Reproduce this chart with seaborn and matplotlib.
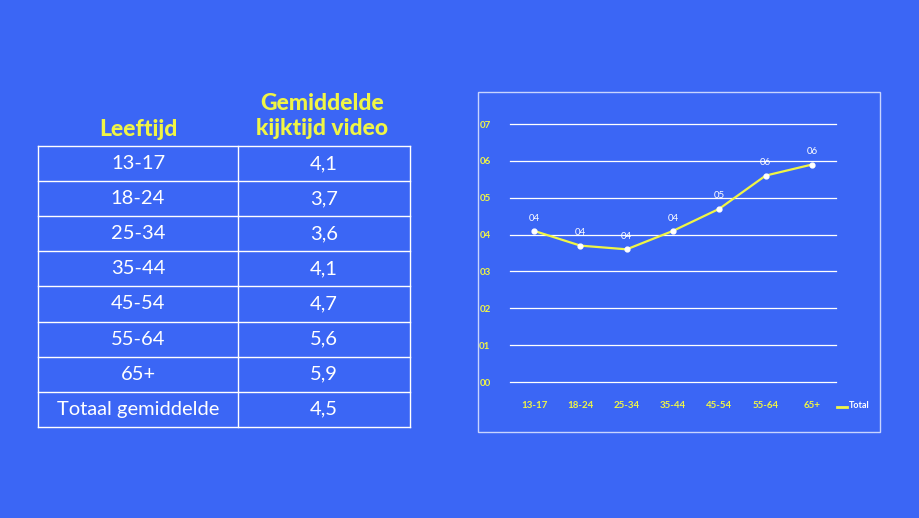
import matplotlib
matplotlib.use("Agg")
import matplotlib.pyplot as plt
import seaborn as sns
import pandas as pd
from matplotlib.patches import Rectangle
from matplotlib.lines import Line2D

ages = ["13-17", "18-24", "25-34", "35-44", "45-54", "55-64", "65+"]
watch_time = [4.1, 3.7, 3.6, 4.1, 4.7, 5.6, 5.9]
table_labels = ages + ["Totaal gemiddelde"]
table_values = ["4,1", "3,7", "3,6", "4,1", "4,7", "5,6", "5,9", "4,5"]
y_ticks = list(range(8))

BG = "#3B66F5"
YEL = "#F0F545"
W, H = 920, 518

df = pd.DataFrame({"age": ages, "value": watch_time})

plt.rcParams["font.family"] = "Lato"
fig = plt.figure(figsize=(W / 100, H / 100), dpi=100, facecolor=BG)

def fx(x): return x / W
def fy(y): return 1 - y / H

# table
top, rh = 146, 35.1
left, mid, right = 38, 238, 410
n = len(table_labels)
for i in range(n + 1):
    yy = fy(top + i * rh)
    fig.add_artist(Line2D([fx(left), fx(right)], [yy, yy], color="white", lw=1))
for xx in (left, mid, right):
    fig.add_artist(Line2D([fx(xx), fx(xx)], [fy(top), fy(top + n * rh)], color="white", lw=1))
for i, (lab, val) in enumerate(zip(table_labels, table_values)):
    yc = fy(top + (i + 0.5) * rh)
    fig.text(fx((left + mid) / 2), yc, lab, color="white", fontsize=14.5, ha="center", va="center")
    fig.text(fx((mid + right) / 2), yc, val, color="white", fontsize=14.5, ha="center", va="center")
fig.text(fx(138), fy(129), "Leeftijd", color=YEL, fontsize=16.5, weight="black", ha="center", va="center")
fig.text(fx(322), fy(116), "Gemiddelde\nkijktijd video", color=YEL, fontsize=16.5, weight="black",
         ha="center", va="center", linespacing=1.2)

# chart panel border
fig.add_artist(Rectangle((fx(478), fy(432)), fx(880) - fx(478), fy(92) - fy(432),
                         fill=False, edgecolor="#C8D4FF", lw=1))

ax = fig.add_axes([fx(510), fy(382), fx(836) - fx(510), fy(124) - fy(382)])
ax.set_facecolor(BG)
for yv in y_ticks:
    ax.axhline(yv, color="white", lw=0.9, zorder=0, clip_on=False)
sns.lineplot(data=df, x="age", y="value", ax=ax, color=YEL, lw=1.6, sort=False, zorder=2)
ax.scatter(range(len(ages)), watch_time, s=12, color="white", zorder=3)
for i, v in enumerate(watch_time):
    ax.annotate(f"0{round(v)}", (i, v), xytext=(0, 6), textcoords="offset points",
                ha="center", va="bottom", color="white", fontsize=7)
ax.set_xlim(-0.52, 6.52)
ax.set_ylim(0, 7)
ax.set_yticks(y_ticks)
ax.set_yticklabels([f"0{t}" for t in y_ticks], color=YEL, fontsize=7, weight="bold")
ax.set_xticks(range(len(ages)))
ax.set_xticklabels(ages, color=YEL, fontsize=7, weight="bold")
ax.tick_params(length=0)
ax.tick_params(axis="y", pad=14)
ax.tick_params(axis="x", pad=14)
for s in ax.spines.values():
    s.set_visible(False)
ax.set_xlabel("")
ax.set_ylabel("")

fig.add_artist(Line2D([fx(837), fx(847)], [fy(407), fy(407)], color=YEL, lw=2))
fig.text(fx(849), fy(406), "Total", color="white", fontsize=6.5, weight="bold", va="center")

fig.savefig("out.png", dpi=100, facecolor=BG)
